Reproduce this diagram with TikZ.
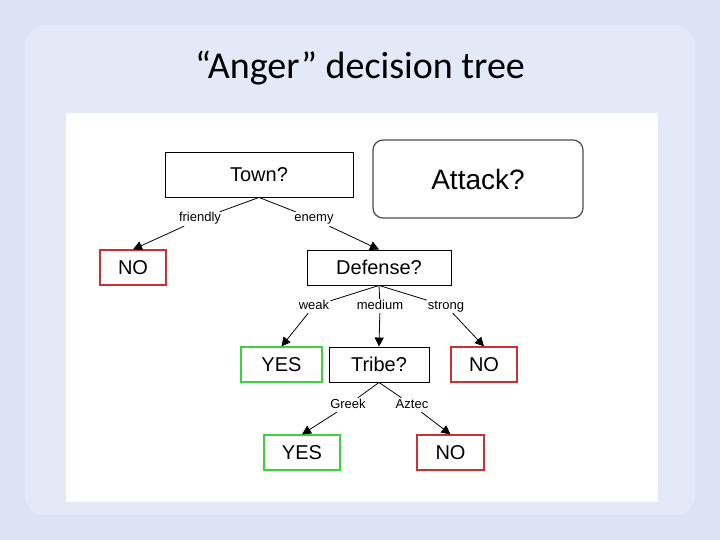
\documentclass[tikz,border=0pt]{standalone}
\usepackage{fontspec}
\setmainfont{Liberation Sans}
\newfontfamily\titlefont{Carlito}
\usetikzlibrary{arrows.meta}
\definecolor{slidebg}{HTML}{DCE4F4}
\definecolor{slideinner}{HTML}{E3E9F6}
\definecolor{yesgreen}{HTML}{3CD23C}
\definecolor{nored}{HTML}{C83232}
\tikzstyle{test} = [draw=black,line width=0.9pt,rectangle,font=\fontsize{20}{20}\selectfont,text centered,inner sep=0pt]
\tikzstyle{leaf} = [rectangle,line width=1.2pt,font=\fontsize{20}{20}\selectfont,text centered,inner sep=0pt]
\tikzstyle{branch} = [font=\fontsize{13}{13}\selectfont,inner sep=1pt,text height=9pt,text depth=3pt]
\tikzstyle{edge} = [line width=0.8pt,-{Triangle[length=9pt,width=9pt]}]
\begin{document}
\begin{tikzpicture}[x=1pt,y=-1pt]
	% slide
	\fill[slidebg] (0,0) rectangle (720,540);
	\fill[slideinner,rounded corners=20pt] (25,25) rectangle (695,515);
	\node (title) at (360,68) {\titlefont\fontsize{38}{38}\selectfont “Anger” decision tree};
	\fill[white] (66,113) rectangle (658,502);
	% tests
	\node (town) [test,minimum width=188pt,minimum height=45pt] at (259,174.5) {Town?};
	\node (attack) [draw=black!70,line width=1.2pt,rounded corners=10pt,minimum width=210pt,minimum height=78pt,font=\fontsize{28}{28}\selectfont] at (478,179) {Attack?};
	\node (defense) [test,minimum width=144pt,minimum height=35pt] at (379,267.5) {Defense?};
	\node (tribe) [test,minimum width=100pt,minimum height=35pt] at (379,364.5) {Tribe?};
	% leaves
	\node (no1) [leaf,draw=nored,minimum width=66pt,minimum height=35pt] at (133,267.5) {NO};
	\node (yes1) [leaf,draw=yesgreen,minimum width=81pt,minimum height=35pt] at (281.5,364.5) {YES};
	\node (no2) [leaf,draw=nored,minimum width=66pt,minimum height=35pt] at (484,364.5) {NO};
	\node (yes2) [leaf,draw=yesgreen,minimum width=76pt,minimum height=35pt] at (302,452.5) {YES};
	\node (no3) [leaf,draw=nored,minimum width=67pt,minimum height=35pt] at (450.5,452.5) {NO};
	% branch labels
	\node (friendly) [branch] at (200,219) {friendly};
	\node (enemy) [branch] at (314,219) {enemy};
	\node (weak) [branch] at (314,306) {weak};
	\node (medium) [branch] at (380,306) {medium};
	\node (strong) [branch] at (446,306) {strong};
	\node (greek) [branch] at (348,405) {Greek};
	\node (aztec) [branch] at (412,405) {Aztec};
	% connections
	\draw [line width=0.8pt] (town.south) -- (friendly);
	\draw [line width=0.8pt] (town.south) -- (enemy);
	\draw [edge] (friendly) -- (no1.north);
	\draw [edge] (enemy) -- (defense.north);
	\draw [line width=0.8pt] (defense.south) -- (weak);
	\draw [line width=0.8pt] (defense.south) -- (medium);
	\draw [line width=0.8pt] (defense.south) -- (strong);
	\draw [edge] (weak) -- (yes1.north);
	\draw [edge] (medium) -- (tribe.north);
	\draw [edge] (strong) -- (no2.north);
	\draw [line width=0.8pt] (tribe.south) -- (greek);
	\draw [line width=0.8pt] (tribe.south) -- (aztec);
	\draw [edge] (greek) -- (yes2.north);
	\draw [edge] (aztec) -- (no3.north);
\end{tikzpicture}
\end{document}
